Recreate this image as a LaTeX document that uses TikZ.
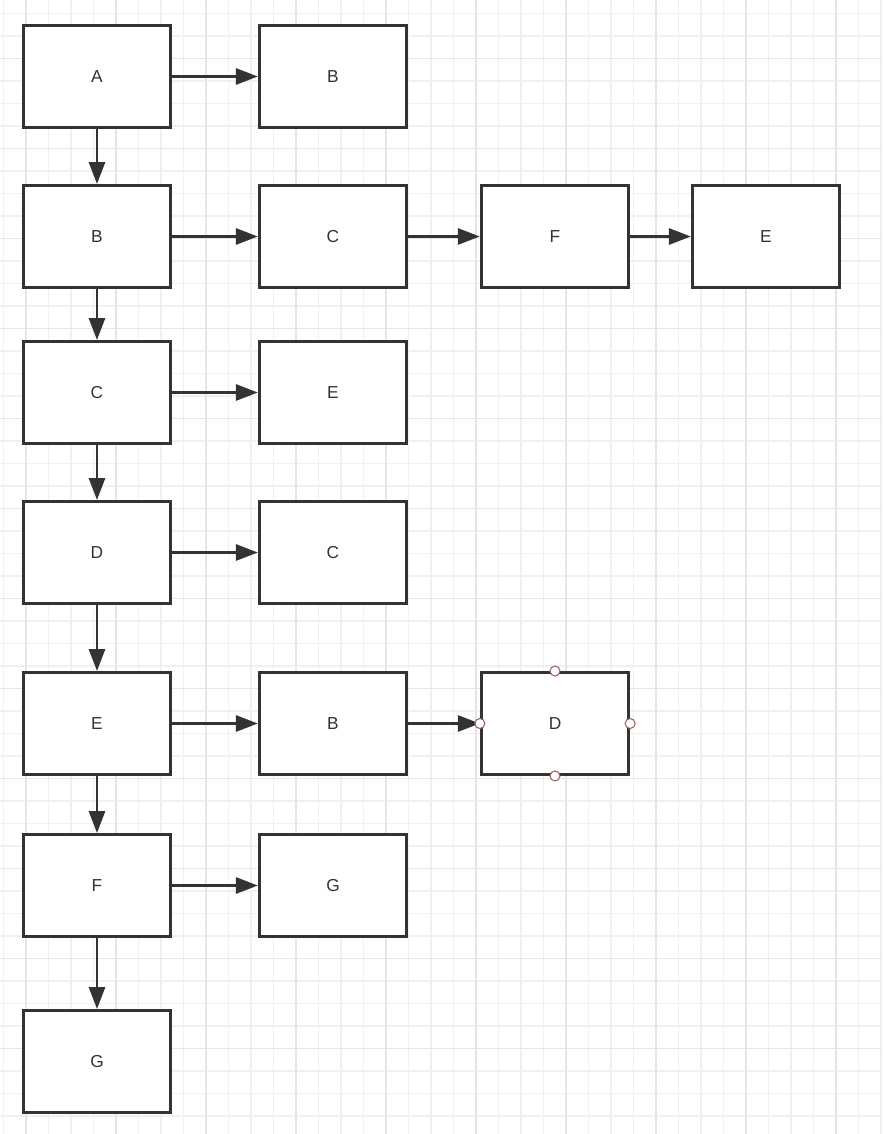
\documentclass[tikz,border=0pt]{standalone}
\usepackage{fontspec}
\setmainfont{Liberation Sans}
\usepackage{xcolor}
\definecolor{lnkdark}{HTML}{333333}
\definecolor{gridminor}{HTML}{F0F0F0}
\definecolor{gridmajor}{HTML}{E6E6E6}
\definecolor{handlered}{HTML}{A0605E}
\usepackage{tikz}
\usetikzlibrary{arrows.meta,positioning}

\begin{document}
\begin{tikzpicture}[x=0.75pt,y=-0.75pt,font=\fontsize{13}{15}\selectfont,
 box/.style={draw=lnkdark,fill=white,line width=2.2pt,text=lnkdark,%
   minimum width=110.5pt,minimum height=76.5pt,inner sep=0pt},
 arr/.style={-{Triangle[length=16.5pt,width=12pt]},draw=lnkdark,line width=2.2pt},
 handle/.style={circle,draw=handlered,fill=white,line width=0.8pt,%
   minimum size=7.5pt,inner sep=0pt}]
\useasboundingbox (0,0) rectangle (882,1134);
% grid
\foreach \gx in {0,...,39} \draw[gridminor,line width=0.8pt] (3.5+22.5*\gx,0)--(3.5+22.5*\gx,1134);
\foreach \gy in {0,...,49} \draw[gridminor,line width=0.8pt] (0,13.5+22.5*\gy)--(882,13.5+22.5*\gy);
\foreach \gx in {0,...,9} \draw[gridmajor,line width=0.8pt] (26+90*\gx,0)--(26+90*\gx,1134);
\foreach \gy in {0,...,12} \draw[gridmajor,line width=0.8pt] (0,58.5+90*\gy)--(882,58.5+90*\gy);
% head column
\node[box] (a) at (97,76.5) {A};
\node[box] (b) at (97,236.5) {B};
\node[box] (c) at (97,392.5) {C};
\node[box] (d) at (97,552.5) {D};
\node[box] (e) at (97,723.5) {E};
\node[box] (f) at (97,885.5) {F};
\node[box] (g) at (97,1061.5) {G};
% neighbour rows
\node[box] (a1) at (333,76.5) {B};
\node[box] (b1) at (333,236.5) {C};
\node[box] (b2) at (555,236.5) {F};
\node[box] (b3) at (766,236.5) {E};
\node[box] (c1) at (333,392.5) {E};
\node[box] (d1) at (333,552.5) {C};
\node[box] (e1) at (333,723.5) {B};
\node[box] (e2) at (555,723.5) {D};
\node[box] (f1) at (333,885.5) {G};
\draw[arr] (a)--(b);%
\draw[arr] (b)--(c);%
\draw[arr] (c)--(d);%
\draw[arr] (d)--(e);%
\draw[arr] (e)--(f);%
\draw[arr] (f)--(g);
\draw[arr] (a)--(a1);%
\draw[arr] (b)--(b1);%
\draw[arr] (b1)--(b2);%
\draw[arr] (b2)--(b3);%
\draw[arr] (c)--(c1);%
\draw[arr] (d)--(d1);%
\draw[arr] (e)--(e1);%
\draw[arr] (e1)--(e2);%
\draw[arr] (f)--(f1);
% selection handles
\node[handle] (hn) at (e2.north) {};
\node[handle] (hs) at (e2.south) {};
\node[handle] (hw) at (e2.west) {};
\node[handle] (he) at (e2.east) {};
\end{tikzpicture}
\end{document}
